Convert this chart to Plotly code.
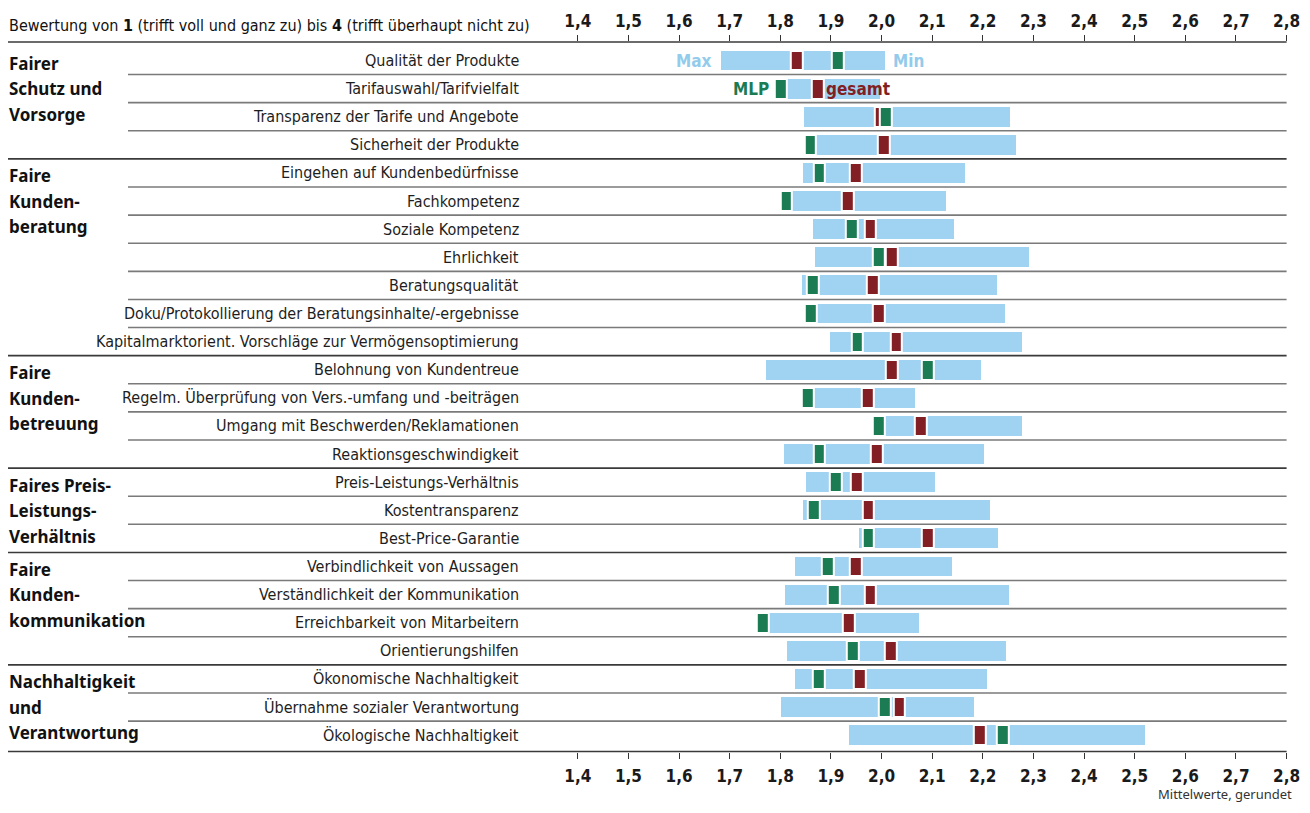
import plotly.graph_objects as go

categories = [
    "Qualität der Produkte", "Tarifauswahl/Tarifvielfalt", "Transparenz der Tarife und Angebote",
    "Sicherheit der Produkte", "Eingehen auf Kundenbedürfnisse", "Fachkompetenz", "Soziale Kompetenz",
    "Ehrlichkeit", "Beratungsqualität", "Doku/Protokollierung der Beratungsinhalte/-ergebnisse",
    "Kapitalmarktorient. Vorschläge zur Vermögensoptimierung", "Belohnung von Kundentreue",
    "Regelm. Überprüfung von Vers.-umfang und -beiträgen", "Umgang mit Beschwerden/Reklamationen",
    "Reaktionsgeschwindigkeit", "Preis-Leistungs-Verhältnis", "Kostentransparenz", "Best-Price-Garantie",
    "Verbindlichkeit von Aussagen", "Verständlichkeit der Kommunikation", "Erreichbarkeit von Mitarbeitern",
    "Orientierungshilfen", "Ökonomische Nachhaltigkeit", "Übernahme sozialer Verantwortung",
    "Ökologische Nachhaltigkeit",
]
max_best = [1.682, 1.788, 1.846, 1.849, 1.845, 1.802, 1.865, 1.868, 1.843, 1.851, 1.898, 1.772, 1.845,
            1.980, 1.806, 1.851, 1.844, 1.955, 1.829, 1.809, 1.757, 1.813, 1.829, 1.801, 1.936]
min_worst = [2.007, 1.997, 2.254, 2.266, 2.165, 2.127, 2.143, 2.291, 2.227, 2.243, 2.277, 2.196, 2.066,
             2.277, 2.202, 2.106, 2.213, 2.230, 2.138, 2.252, 2.073, 2.246, 2.208, 2.183, 2.520]
mlp = [1.914, 1.801, 2.008, 1.859, 1.877, 1.812, 1.941, 1.994, 1.864, 1.860, 1.952, 2.091, 1.854,
       1.995, 1.877, 1.910, 1.866, 1.974, 1.894, 1.906, 1.766, 1.943, 1.876, 2.006, 2.239]
gesamt = [1.832, 1.874, 1.999, 2.005, 1.949, 1.933, 1.978, 2.020, 1.983, 1.994, 2.029, 2.020, 1.973,
          2.077, 1.990, 1.951, 1.974, 2.091, 1.949, 1.978, 1.935, 2.018, 1.957, 2.035, 2.194]

group_names = [
    ["Fairer", "Schutz und", "Vorsorge"],
    ["Faire", "Kunden-", "beratung"],
    ["Faire", "Kunden-", "betreuung"],
    ["Faires Preis-", "Leistungs-", "Verhältnis"],
    ["Faire", "Kunden-", "kommunikation"],
    ["Nachhaltigkeit", "und", "Verantwortung"],
]
group_start = [0, 4, 11, 15, 18, 22]

tick_vals = [1.4, 1.5, 1.6, 1.7, 1.8, 1.9, 2.0, 2.1, 2.2, 2.3, 2.4, 2.5, 2.6, 2.7, 2.8]
tick_text = ["1,4", "1,5", "1,6", "1,7", "1,8", "1,9", "2,0", "2,1", "2,2", "2,3", "2,4", "2,5", "2,6", "2,7", "2,8"]

BLUE = "#a0d3f1"
GREEN = "#1b7b53"
RED = "#821f24"
COND = "DejaVu Sans Condensed, Liberation Sans Narrow, sans-serif"
BOLDF = "Noto Sans, Open Sans, sans-serif"

# page body has an 8px margin: figure is placed at (8, 8) in the window
OFF = 8
W, H = 1310 - 2 * OFF, 813 - 2 * OFF


def px(xp):
    return (xp - OFF) / W


def py(yp):
    return 1 - (yp - OFF) / H


X0PX, X1PX = 577.8, 1286.6
TOPPX, BOTPX = 42.0, 751.5
ROW0, PITCH = 60.5, 28.11
MW = 0.023

fig = go.Figure()
fig.add_trace(go.Bar(
    y=categories, x=[b - a for a, b in zip(max_best, min_worst)], base=max_best,
    orientation="h", width=0.71, marker=dict(color=BLUE, line=dict(width=0)), showlegend=False,
    hoverinfo="skip"))
fig.add_trace(go.Bar(
    y=categories, x=[MW] * len(gesamt), base=[g - MW / 2 for g in gesamt],
    orientation="h", width=0.71, marker=dict(color=RED, line=dict(color="white", width=2)),
    showlegend=False, hoverinfo="skip"))
fig.add_trace(go.Bar(
    y=categories, x=[MW] * len(mlp), base=[m - MW / 2 for m in mlp],
    orientation="h", width=0.71, marker=dict(color=GREEN, line=dict(color="white", width=2)),
    showlegend=False, hoverinfo="skip"))
fig.add_trace(go.Scatter(x=[1.4], y=[categories[0]], xaxis="x2", mode="markers",
                         marker=dict(opacity=0), showlegend=False, hoverinfo="skip"))

xdom = [px(X0PX), px(X1PX)]
ydom = [py(BOTPX), py(TOPPX)]
yr_top = (TOPPX - ROW0) / PITCH
yr_bot = (BOTPX - ROW0) / PITCH

axis_common = dict(
    range=[1.4, 2.8], domain=xdom, tickvals=tick_vals, ticktext=tick_text,
    ticks="outside", ticklen=6, tickwidth=1.2, tickcolor="#333",
    showgrid=False, zeroline=False, showline=False,
    tickfont=dict(family=COND, size=17, color="#1a1a1a", weight="bold"),
    automargin=False, fixedrange=True,
)
fig.update_layout(
    width=W, height=H, margin=dict(l=0, r=0, t=0, b=0),
    paper_bgcolor="white", plot_bgcolor="white",
    barmode="overlay", bargap=0,
    xaxis=dict(**axis_common, side="bottom", anchor="y", ticklabelstandoff=3),
    xaxis2=dict(**axis_common, side="top", anchor="y", overlaying="x", matches="x", ticklabelstandoff=1),
    yaxis=dict(domain=ydom, range=[yr_bot, yr_top], autorange=False, showticklabels=False,
               showgrid=False, zeroline=False, showline=False, ticks="", fixedrange=True,
               type="category", categoryorder="array", categoryarray=categories),
    showlegend=False,
)

shapes = []
group_ends = [s - 1 for s in group_start[1:]]
for i in range(len(categories) - 1):
    full = i in group_ends
    shapes.append(dict(type="line", xref="paper", yref="y",
                       x0=px(8 if full else 128), x1=px(X1PX), y0=i + 0.5, y1=i + 0.5,
                       line=dict(color="#3a3a3a" if full else "#7a7a7a", width=1.6)))
for yp in ydom:
    shapes.append(dict(type="line", xref="paper", yref="paper", x0=px(8), x1=px(X1PX),
                       y0=yp, y1=yp, line=dict(color="#3a3a3a", width=1.6)))
fig.update_layout(shapes=shapes)

ann = []
for c in categories:
    ann.append(dict(x=px(521), y=c, xref="paper", yref="y", text=c, showarrow=False,
                    xanchor="right", yanchor="middle",
                    font=dict(family=COND, size=16, color="#1e1e1e")))
for names, s in zip(group_names, group_start):
    for k, t in enumerate(names):
        ypx = ROW0 + s * PITCH + 3 + k * 25.5
        ann.append(dict(x=px(7), y=py(ypx), xref="paper", yref="paper", text=t, showarrow=False,
                        xanchor="left", yanchor="middle",
                        font=dict(family=BOLDF, size=17, color="#111", weight="bold")))
ann.append(dict(x=px(7), y=py(25), xref="paper", yref="paper",
                text="Bewertung von <b>1</b> (trifft voll und ganz zu) bis <b>4</b> (trifft überhaupt nicht zu)",
                showarrow=False, xanchor="left", yanchor="middle",
                font=dict(family=COND, size=16, color="#111")))
ann.append(dict(x=px(1294), y=0, xref="paper", yref="paper", text="Mittelwerte, gerundet",
                showarrow=False, xanchor="right", yanchor="bottom",
                font=dict(family=BOLDF, size=13, color="#333")))
# in-chart legend labels
ann.append(dict(x=max_best[0], y=categories[0], xref="x", yref="y", text="Max", showarrow=False,
                xanchor="right", yanchor="middle", xshift=-7,
                font=dict(family=COND, size=17, color="#93cbec", weight="bold")))
ann.append(dict(x=min_worst[0], y=categories[0], xref="x", yref="y", text="Min", showarrow=False,
                xanchor="left", yanchor="middle", xshift=6,
                font=dict(family=COND, size=17, color="#93cbec", weight="bold")))
ann.append(dict(x=max_best[1], y=categories[1], xref="x", yref="y", text="MLP", showarrow=False,
                xanchor="right", yanchor="middle", xshift=-3,
                font=dict(family=COND, size=17, color=GREEN, weight="bold")))
ann.append(dict(x=gesamt[1], y=categories[1], xref="x", yref="y", text="gesamt", showarrow=False,
                xanchor="left", yanchor="middle", xshift=6,
                font=dict(family=COND, size=17, color=RED, weight="bold")))
fig.update_layout(annotations=ann)

fig.write_html("out.html")
